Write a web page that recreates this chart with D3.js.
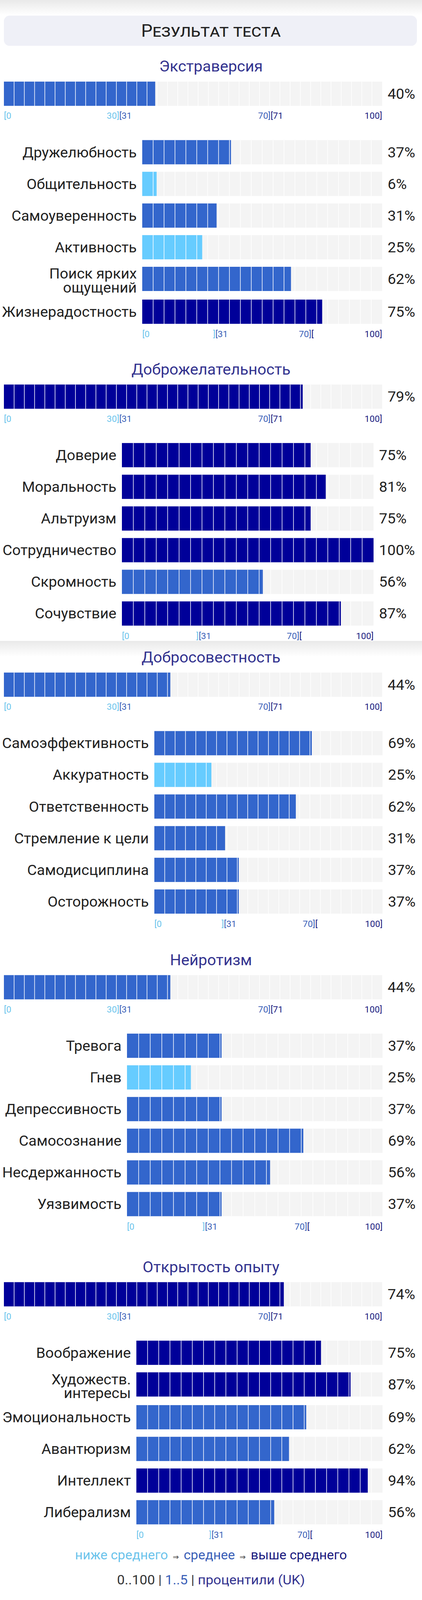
<!DOCTYPE html>
<html>
<head>
<meta charset="utf-8">
<script src="https://cdn.jsdelivr.net/npm/d3@7"></script>
<style>
  html, body { margin: 0; padding: 0; background: #fff; overflow: hidden; }
  svg { display: block; font-family: Roboto, "Noto Sans", sans-serif; }
</style>
</head>
<body>
<svg id="chart"></svg>
<script>
// Data
const sectionNames = ["Экстраверсия", "Доброжелательность", "Добросовестность", "Нейротизм", "Открытость опыту"];
const sectionScores = [40, 79, 44, 44, 74];

const facetNames = [
  ["Дружелюбность", "Общительность", "Самоуверенность", "Активность", "Поиск ярких\nощущений", "Жизнерадостность"],
  ["Доверие", "Моральность", "Альтруизм", "Сотрудничество", "Скромность", "Сочувствие"],
  ["Самоэффективность", "Аккуратность", "Ответственность", "Стремление к цели", "Самодисциплина", "Осторожность"],
  ["Тревога", "Гнев", "Депрессивность", "Самосознание", "Несдержанность", "Уязвимость"],
  ["Воображение", "Художеств.\nинтересы", "Эмоциональность", "Авантюризм", "Интеллект", "Либерализм"]
];
const facetScores = [
  [37, 6, 31, 25, 62, 75],
  [75, 81, 75, 100, 56, 87],
  [69, 25, 62, 31, 37, 37],
  [37, 25, 37, 69, 56, 37],
  [75, 87, 69, 62, 94, 56]
];

// tick labels under the bars
const tickValues = [0, 30.5, 30.5, 70.5, 70.5, 100];
const mainTickText = ["[0", "30]", "[31", "70]", "[71", "100]"];
const subTickText = ["[0", "]", "[31", "70]", "[", "100]"];
const tickBand = [0, 0, 1, 1, 2, 2];

const legendText = ["ниже среднего", "среднее", "выше среднего"];
const footerText = ["0..100", "1..5", "процентили (UK)"];

// Layout (drawn in a 1080x4294 space, fitted to the window height)
const width = 1080;
const height = 4294;
const titleY = [178, 991, 1764, 2576, 3400];
const mainRange = [10, 978];
const subRanges = [[364, 978], [312, 956], [395, 979], [325, 979], [349, 979]];
const barH = 65;
const rowStep = 85;

const bandColors = ["#66ccff", "#3366cc", "#000099"];
const tickColors = ["#6cc4ec", "#3a5fb8", "#1a1a80"];
const color = d3.scaleThreshold().domain([31, 71]).range(bandColors);

// the window is shorter than the picture, so squeeze vertically to keep everything visible
const viewH = Math.min(window.innerHeight || height, height);

const svg = d3.select("#chart")
  .attr("width", width)
  .attr("height", viewH)
  .attr("viewBox", [0, 0, width, height])
  .attr("preserveAspectRatio", "none");

// gradients for the screenshot shading
const defs = svg.append("defs");
const grad = defs.append("linearGradient")
  .attr("id", "shade").attr("x1", 0).attr("y1", 0).attr("x2", 0).attr("y2", 1);
grad.append("stop").attr("offset", "0%").attr("stop-color", "#e9e9e9");
grad.append("stop").attr("offset", "100%").attr("stop-color", "#ffffff");

svg.append("rect").attr("x", 0).attr("y", 0).attr("width", width).attr("height", 40).attr("fill", "url(#shade)");
svg.append("rect").attr("x", 0).attr("y", 1720).attr("width", width).attr("height", 42).attr("fill", "url(#shade)");

// Header
svg.append("rect")
  .attr("x", 10).attr("y", 42)
  .attr("width", 1057).attr("height", 81)
  .attr("rx", 15)
  .attr("fill", "#eff0f7");

svg.append("text")
  .attr("x", width / 2)
  .attr("y", 82 + 0.355 * 46)
  .attr("text-anchor", "middle")
  .attr("font-size", 46)
  .attr("font-variant", "small-caps")
  .attr("fill", "#222")
  .text("Результат теста");

// draw a segmented bar
function drawBar(g, x, top, value, segments) {
  const [x0, x1] = x.range();
  g.append("rect")
    .attr("x", x0).attr("y", top)
    .attr("width", x1 - x0).attr("height", barH)
    .attr("fill", "#f4f4f4");
  g.append("rect")
    .attr("x", x0).attr("y", top)
    .attr("width", x(value) - x0).attr("height", barH)
    .attr("fill", color(value));
  g.selectAll(null)
    .data(d3.range(1, segments))
    .join("line")
      .attr("x1", i => x(i * 100 / segments))
      .attr("x2", i => x(i * 100 / segments))
      .attr("y1", top).attr("y2", top + barH)
      .attr("stroke", "#fff")
      .attr("stroke-width", 1.5);
}

function drawTicks(g, x, y, texts) {
  g.selectAll(null)
    .data(texts)
    .join("text")
      .attr("x", (d, i) => x(tickValues[i]))
      .attr("y", y + 0.355 * 23)
      .attr("text-anchor", (d, i) => i % 2 === 0 ? "start" : "end")
      .attr("font-size", 23)
      .attr("fill", (d, i) => tickColors[tickBand[i]])
      .text(d => d);
}

sectionNames.forEach((name, s) => {
  const g = svg.append("g");
  const xMain = d3.scaleLinear().domain([0, 100]).range(mainRange);
  const xSub = d3.scaleLinear().domain([0, 100]).range(subRanges[s]);

  g.append("text")
    .attr("x", width / 2)
    .attr("y", titleY[s] + 0.355 * 40)
    .attr("text-anchor", "middle")
    .attr("font-size", 40)
    .attr("fill", "#33338f")
    .text(name);

  const top = titleY[s] + 41;
  drawBar(g, xMain, top, sectionScores[s], 37);
  g.append("text")
    .attr("x", mainRange[1] + 14)
    .attr("y", top + barH / 2 + 0.355 * 38)
    .attr("font-size", 38)
    .attr("fill", "#222")
    .text(sectionScores[s] + "%");

  const axisY = top + 92;
  drawTicks(g, xMain, axisY, mainTickText);

  let rowTop = axisY + 65;
  let lastBottom = rowTop;
  facetNames[s].forEach((label, i) => {
    const v = facetScores[s][i];
    drawBar(g, xSub, rowTop, v, 22);
    const cy = rowTop + barH / 2;
    const lines = label.split("\n");
    const t = g.append("text")
      .attr("text-anchor", "end")
      .attr("font-size", 38)
      .attr("fill", "#222");
    if (lines.length === 1) {
      t.attr("x", subRanges[s][0] - 14).attr("y", cy + 0.355 * 38).text(label);
    } else {
      lines.forEach((ln, k) => {
        t.append("tspan")
          .attr("x", subRanges[s][0] - 14)
          .attr("y", cy + (k === 0 ? -14 : 23.5) + 0.355 * 38)
          .text(ln);
      });
    }
    g.append("text")
      .attr("x", subRanges[s][1] + 14)
      .attr("y", cy + 0.355 * 38)
      .attr("font-size", 38)
      .attr("fill", "#222")
      .text(v + "%");
    lastBottom = rowTop + barH;
    rowTop += rowStep + (lines.length > 1 ? 3 : 0);
  });

  drawTicks(g, xSub, lastBottom + 28, subTickText);
});

// Legend
const legend = svg.append("text")
  .attr("x", width / 2)
  .attr("y", 4175 + 0.3 * 34)
  .attr("text-anchor", "middle")
  .attr("font-size", 34);
legendText.forEach((t, i) => {
  if (i > 0) {
    legend.append("tspan").attr("fill", "#333").attr("font-size", 19).attr("dx", 12).text("⇒");
  }
  legend.append("tspan").attr("fill", tickColors[i]).attr("dx", i > 0 ? 12 : 0).text(t);
});

// Footer
const footer = svg.append("text")
  .attr("x", width / 2)
  .attr("y", 4240 + 0.355 * 35)
  .attr("text-anchor", "middle")
  .attr("font-size", 35);
const footerColors = ["#333", "#3a5fb8", "#33338f"];
footerText.forEach((t, i) => {
  if (i > 0) footer.append("tspan").attr("fill", "#333").text(" | ");
  footer.append("tspan").attr("fill", footerColors[i]).text(t);
});
</script>
</body>
</html>
